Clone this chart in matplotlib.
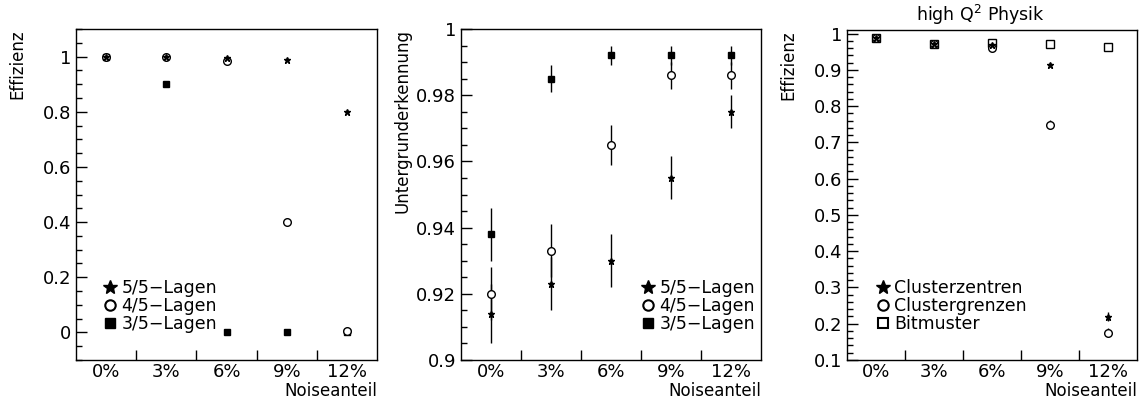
import numpy as np
import matplotlib
matplotlib.use("Agg")
import matplotlib.pyplot as plt
from matplotlib.ticker import MultipleLocator, FixedLocator, NullFormatter, FuncFormatter
from matplotlib.lines import Line2D

plt.rcParams["font.family"] = ["DejaVu Sans"]

# Data
noise_labels = ["0%", "3%", "6%", "9%", "12%"]

# Panel 1: Effizienz
eff_55 = [1.0, 1.0, 0.995, 0.989, 0.80]
eff_45 = [1.0, 1.0, 0.984, 0.40, 0.005]
eff_35 = [1.0, 0.90, 0.0, 0.0, 0.0]

# Panel 2: Untergrunderkennung
bg_55 = [0.914, 0.923, 0.930, 0.955, 0.975]
bg_55_err = [0.009, 0.008, 0.008, 0.0065, 0.005]
bg_45 = [0.920, 0.933, 0.965, 0.986, 0.986]
bg_45_err = [0.008, 0.008, 0.006, 0.004, 0.004]
bg_35 = [0.938, 0.985, 0.992, 0.992, 0.992]
bg_35_err = [0.008, 0.004, 0.003, 0.003, 0.003]

# Panel 3: high Q^2 Physik
hq_zentren = [0.989, 0.972, 0.970, 0.913, 0.219]
hq_zentren_err = [0.002, 0.002, 0.003, 0.006, 0.012]
hq_grenzen = [0.989, 0.972, 0.961, 0.749, 0.175]
hq_grenzen_err = [0.002, 0.002, 0.004, 0.012, 0.012]
hq_bitmuster = [0.989, 0.972, 0.974, 0.971, 0.964]

lagen_labels = ["5/5\u2212Lagen", "4/5\u2212Lagen", "3/5\u2212Lagen"]
hq_labels = ["Clusterzentren", "Clustergrenzen", "Bitmuster"]

x = np.arange(len(noise_labels))


def fmt_label(v, pos=None):
    return f"{v:.3f}".rstrip("0").rstrip(".")


def style_axes(ax, ylim, major, minor, ylabel):
    ax.set_xlim(-0.5, len(noise_labels) - 0.5)
    ax.set_ylim(*ylim)
    ax.xaxis.set_major_locator(FixedLocator(x[:-1] + 0.5))
    ax.xaxis.set_major_formatter(NullFormatter())
    for xi, lab in zip(x, noise_labels):
        ax.annotate(lab, xy=(xi, 0), xycoords=ax.get_xaxis_transform(),
                    xytext=(0, -2), textcoords="offset points",
                    ha="center", va="top", fontsize=13)
    ax.yaxis.set_major_locator(MultipleLocator(major))
    ax.yaxis.set_minor_locator(MultipleLocator(minor))
    ax.yaxis.set_major_formatter(FuncFormatter(fmt_label))
    ax.tick_params(axis="x", direction="in", length=7, width=1, top=False)
    ax.tick_params(axis="y", which="both", direction="in", left=True, right=False)
    ax.tick_params(axis="y", which="major", length=8, width=1,
                   labelsize=13, pad=3.5)
    ax.tick_params(axis="y", which="minor", length=4, width=1)
    for sp in ax.spines.values():
        sp.set_linewidth(1.0)
    ax.annotate("Noiseanteil", xy=(1, 0), xycoords="axes fraction",
                xytext=(0, -16), textcoords="offset points",
                ha="right", va="top", fontsize=12)
    ax.annotate(ylabel, xy=(0, 1), xycoords="axes fraction",
                xytext=(-42, 0), textcoords="offset points", rotation=90,
                ha="center", va="top", fontsize=12)


def add_legend(ax, handles, labels, x0):
    ax.legend(handles, labels, loc="upper left", bbox_to_anchor=(x0, 0.245),
              frameon=False, fontsize=12.5, handlelength=0.8,
              handletextpad=0.25, labelspacing=0.0, borderpad=0,
              borderaxespad=0)


fig = plt.figure(figsize=(11.47, 4.0), dpi=100)

filled_handles = [
    Line2D([], [], marker="*", color="black", ls="none", ms=10),
    Line2D([], [], marker="o", mfc="white", mec="black", mew=1.5, ls="none", ms=7.5),
    Line2D([], [], marker="s", color="black", ls="none", ms=7),
]

# Panel 1
ax1 = fig.add_axes([0.0663, 0.10, 0.2624, 0.8275])
ax1.plot(x, eff_35, "s", color="black", ms=5, ls="none")
ax1.plot(x, eff_45, "o", mfc="white", mec="black", mew=1, ms=5.5, ls="none")
ax1.plot(x, eff_55, "*", color="black", ms=4.5, ls="none")
style_axes(ax1, (-0.1, 1.1), 0.2, 0.05, "Effizienz")
add_legend(ax1, filled_handles, lagen_labels, 0.09)

# Panel 2
ax2 = fig.add_axes([0.4019, 0.10, 0.2616, 0.8275])
ax2.errorbar(x, bg_35, yerr=bg_35_err, fmt="s", color="black", ms=5,
             elinewidth=1, capsize=0)
ax2.errorbar(x, bg_45, yerr=bg_45_err, fmt="o", mfc="white", mec="black",
             ecolor="black", mew=1, ms=5.5, elinewidth=1, capsize=0)
ax2.errorbar(x, bg_55, yerr=bg_55_err, fmt="*", color="black", ms=4.5,
             elinewidth=1, capsize=0)
style_axes(ax2, (0.9, 1.0), 0.02, 0.005, "Untergrunderkennung")
add_legend(ax2, filled_handles, lagen_labels, 0.60)

# Panel 3
ax3 = fig.add_axes([0.7384, 0.10, 0.2529, 0.825])
ax3.plot(x, hq_bitmuster, "s", mfc="white", mec="black", mew=1, ms=5.5, ls="none")
ax3.errorbar(x, hq_grenzen, yerr=hq_grenzen_err, fmt="o", mfc="white",
             mec="black", ecolor="black", mew=1, ms=5.5, elinewidth=1, capsize=0)
ax3.errorbar(x, hq_zentren, yerr=hq_zentren_err, fmt="*", color="black",
             ms=4.5, elinewidth=1, capsize=0)
style_axes(ax3, (0.1, 1.01), 0.1, 0.02, "Effizienz")
ax3.annotate("high Q$^{2}$ Physik", xy=(0.459, 1), xycoords="axes fraction",
             xytext=(0, 11), textcoords="offset points",
             ha="center", va="center", fontsize=12.5)
open_handles = [
    Line2D([], [], marker="*", color="black", ls="none", ms=10),
    Line2D([], [], marker="o", mfc="white", mec="black", mew=1.5, ls="none", ms=7.5),
    Line2D([], [], marker="s", mfc="white", mec="black", mew=1.5, ls="none", ms=7),
]
add_legend(ax3, open_handles, hq_labels, 0.10)

fig.savefig("out.png", dpi=100)
